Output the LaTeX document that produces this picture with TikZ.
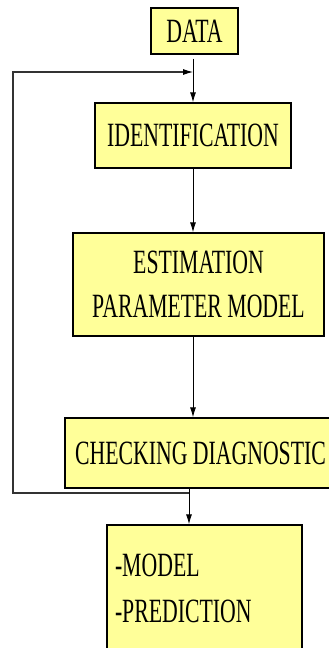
\documentclass[tikz,border=0pt]{standalone}
\usepackage{fontspec}
\setmainfont{Liberation Serif}[FakeStretch=0.64]
\usetikzlibrary{arrows.meta}

\definecolor{boxyellow}{RGB}{255,255,153}

\tikzset{
    block/.style={draw, fill=boxyellow, line width=1.4pt, inner sep=0pt,
        font=\fontsize{34}{44}\selectfont, align=center},
    flow/.style={-{Latex[length=10pt,width=6pt]}, line width=0.9pt},
    feedback/.style={line width=1.6pt, draw=black!80}
}

\begin{document}
\begin{tikzpicture}[x=1pt,y=1pt]
\useasboundingbox (0,0) rectangle (329,-648);

% boxes
\node[block, minimum width=87, minimum height=46] (data) at (194.5,-31) {DATA};
\node[block, minimum width=196, minimum height=65] (ident) at (193,-135.5) {IDENTIFICATION};
\node[block, minimum width=251, minimum height=103] (estim) at (198.5,-284.5)
    {ESTIMATION\\PARAMETER MODEL};
\node[block, minimum width=271, minimum height=70] (check) at (200.5,-453) {CHECKING DIAGNOSTIC};
\node[block, minimum width=195, minimum height=127, text width=179, align=left] (model)
    at (204.5,-588.5) {-MODEL\\[2pt]-PREDICTION};

% joints of the loop
\coordinate (merge) at (193,-72);
\coordinate (fork) at (189,-493);

% main flow
\draw[flow] ([yshift=-4]data.south -| merge) -- (ident.north -| merge);
\draw[flow] (ident.south -| merge) -- (estim.north -| merge);
\draw[flow] (estim.south -| merge) -- (check.north -| merge);
\draw[flow] (check.south -| fork) -- (model.north -| fork);

% back to identification
\draw[feedback] (fork) -- ++(-176,0) |- ([xshift=-10]merge);
\draw[flow] ([xshift=-10]merge) -- (merge);
\end{tikzpicture}
\end{document}
